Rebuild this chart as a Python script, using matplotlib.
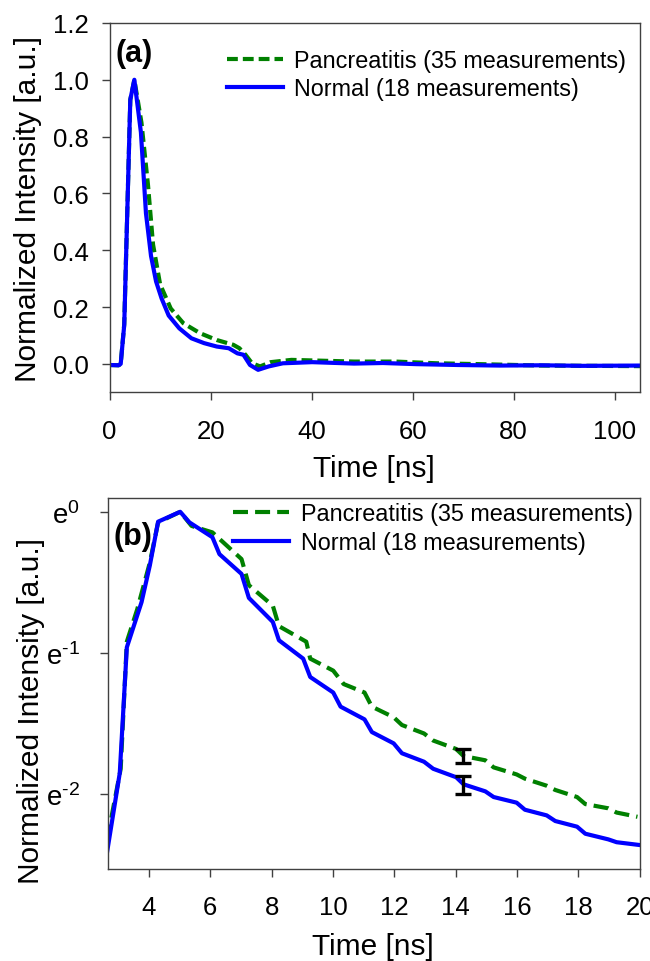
import numpy as np
import matplotlib
matplotlib.use("Agg")
import matplotlib.pyplot as plt

plt.rcParams['font.family'] = ['Liberation Sans', 'DejaVu Sans']
plt.rcParams['mathtext.fontset'] = 'custom'
plt.rcParams['mathtext.rm'] = 'Liberation Sans'
plt.rcParams['mathtext.it'] = 'Liberation Sans:italic'

# ---------------- Panel (a) data: full decay (linear scale) ----------------
t_a_normal = [0, 1.8, 2.2, 2.9, 4.1, 4.9, 6.2, 7.2, 8.2, 9.2, 10.3, 11.7, 13.8, 16.2,
              18.7, 21.2, 23.6, 25.3, 26.5, 27.8, 29.4, 31.5, 34.3, 40.1, 48.4, 54.1,
              60.7, 68.9, 77.2, 85.4, 93.7, 105]
i_a_normal = [-0.004, -0.005, 0.0, 0.137, 0.93, 1.0, 0.815, 0.53, 0.38, 0.29, 0.23, 0.17,
              0.125, 0.09, 0.073, 0.061, 0.055, 0.037, 0.032, -0.004, -0.021, -0.009,
              0.002, 0.006, 0.001, 0.003, -0.001, -0.004, -0.006, -0.005, -0.007, -0.006]

t_a_panc = [0, 1.8, 2.2, 2.9, 4.1, 4.9, 6.3, 7.6, 8.6, 10.0, 12.1, 14.6, 17.9, 21.2,
            24.5, 25.7, 26.9, 28.2, 29.8, 31.9, 36.0, 40.1, 48.4, 56.6, 64.8, 73.1,
            85.4, 105]
i_a_panc = [-0.004, -0.005, 0.0, 0.14, 0.93, 1.0, 0.85, 0.63, 0.42, 0.28, 0.195, 0.143,
            0.108, 0.084, 0.067, 0.055, 0.032, 0.002, -0.009, 0.006, 0.014, 0.012,
            0.008, 0.008, 0.002, -0.001, -0.006, -0.008]

# ---------------- Panel (b) data: early decay (natural-log intensity) ----------------
t_b_normal = [2.64, 3.05, 3.28, 3.76, 4.03, 4.30, 5.02, 5.32, 6.07, 6.30, 7.02, 7.26,
              8.04, 8.24, 9.03, 9.26, 10.01, 10.25, 11.03, 11.27, 11.98, 12.25, 12.97,
              13.27, 14.02, 14.26, 14.97, 15.24, 15.99, 16.26, 16.97, 17.25, 17.96,
              18.23, 18.98, 19.25, 20.0]
ln_b_normal = [-2.405, -1.85, -0.96, -0.64, -0.38, -0.07, 0.0, -0.075, -0.18, -0.30,
               -0.44, -0.61, -0.78, -0.91, -1.04, -1.17, -1.28, -1.38, -1.47, -1.56,
               -1.64, -1.71, -1.77, -1.82, -1.88, -1.93, -1.98, -2.02, -2.06, -2.11,
               -2.15, -2.19, -2.23, -2.28, -2.32, -2.34, -2.36]

t_b_panc = [2.64, 3.08, 3.28, 3.62, 4.03, 4.30, 5.02, 5.39, 6.07, 7.02, 7.26, 8.04,
            8.24, 9.13, 9.26, 10.01, 10.35, 11.03, 11.27, 11.98, 12.25, 12.97, 13.27,
            14.02, 14.26, 14.97, 15.24, 15.99, 16.26, 16.97, 17.25, 17.96, 18.23,
            18.98, 19.25, 19.93]
ln_b_panc = [-2.32, -1.82, -0.92, -0.69, -0.36, -0.075, 0.0, -0.10, -0.146, -0.335,
             -0.52, -0.665, -0.81, -0.92, -1.04, -1.125, -1.22, -1.28, -1.38, -1.455,
             -1.51, -1.57, -1.62, -1.68, -1.73, -1.76, -1.81, -1.86, -1.89, -1.94,
             -1.97, -2.02, -2.07, -2.10, -2.13, -2.16]

# error bars at t = 14.25 ns (natural-log units)
err_t = [14.25, 14.25]
err_center_ln = [-1.73, -1.935]
err_half_ln = [0.052, 0.065]

labels = ['Pancreatitis (35 measurements)', 'Normal (18 measurements)']
ytick_b_exp = ['0', '\u20101', '\u20102']
c_panc = '#008000'
c_norm = '#0000FF'
spine_c = '#404040'

fig = plt.figure(figsize=(6.5, 9.62), dpi=100)
ax1 = fig.add_axes([0.1686, 0.5912, 0.816, 0.3839])
ax2 = fig.add_axes([0.1654, 0.0956, 0.8186, 0.3853])

def style(ax):
    for s in ax.spines.values():
        s.set_color(spine_c)
        s.set_linewidth(1.0)
    ax.tick_params(direction='out', length=6, width=1.0, color=spine_c,
                   labelsize=18.5, top=False, right=False)
    ax.tick_params(axis='x', pad=13)
    ax.tick_params(axis='y', pad=9)

# ---- panel (a)
ax1.plot(t_a_panc, i_a_panc, color=c_panc, lw=3.0, dashes=(2.6, 1.2), label=labels[0])
ax1.plot(t_a_normal, i_a_normal, color=c_norm, lw=3.0, label=labels[1])
ax1.set_xlim(0, 105)
ax1.set_ylim(-0.1, 1.2)
ax1.set_xticks([0, 20, 40, 60, 80, 100])
ax1.set_yticks([0.0, 0.2, 0.4, 0.6, 0.8, 1.0, 1.2])
ax1.set_yticklabels(['0.0', '0.2', '0.4', '0.6', '0.8', '1.0', '1.2'])
style(ax1)
ax1.set_xlabel('Time [ns]', fontsize=21.5)
ax1.set_ylabel('Normalized Intensity [a.u.]', fontsize=21.5)
ax1.xaxis.set_label_coords(0.4985, -0.168)
ax1.yaxis.set_label_coords(-0.128, 0.5)
ax1.text(0.012, 0.96, '(a)', transform=ax1.transAxes, fontsize=22, fontweight='bold',
         va='top', ha='left')
ax1.legend(loc='upper left', bbox_to_anchor=(0.221, 0.93), frameon=False, fontsize=16.8,
           handlelength=2.4, handletextpad=0.5, labelspacing=0.22, borderpad=0,
           borderaxespad=0)

# ---- panel (b)
ax2.set_yscale('log', base=np.e)
ax2.plot(t_b_panc, np.exp(ln_b_panc), color=c_panc, lw=3.0, dashes=(3.6, 1.7), label=labels[0])
ax2.plot(t_b_normal, np.exp(ln_b_normal), color=c_norm, lw=3.0, label=labels[1])
for tt, cc, hh in zip(err_t, err_center_ln, err_half_ln):
    lo = np.exp(cc) - np.exp(cc - hh)
    hi = np.exp(cc + hh) - np.exp(cc)
    ax2.errorbar([tt], [np.exp(cc)], yerr=[[lo], [hi]], fmt='none', ecolor='black',
                 elinewidth=2.4, capsize=5.5, capthick=2.4, zorder=5)
ax2.set_xlim(2.65, 20)
ax2.set_ylim(np.exp(-2.53), np.exp(0.095))
ax2.set_xticks([4, 6, 8, 10, 12, 14, 16, 18, 20])
ax2.set_yticks([np.exp(0), np.exp(-1), np.exp(-2)])
ax2.set_yticklabels([r'$\mathregular{e^{%s}}$' % s for s in ytick_b_exp])
ax2.yaxis.set_minor_locator(matplotlib.ticker.NullLocator())
style(ax2)
ax2.tick_params(axis='y', labelsize=20, pad=14)
ax2.set_xlabel('Time [ns]', fontsize=21.5)
ax2.set_ylabel('Normalized Intensity [a.u.]', fontsize=21.5)
ax2.xaxis.set_label_coords(0.4985, -0.17)
ax2.yaxis.set_label_coords(-0.118, 0.43)
ax2.text(0.012, 0.94, '(b)', transform=ax2.transAxes, fontsize=22, fontweight='bold',
         va='top', ha='left')
ax2.legend(loc='upper left', bbox_to_anchor=(0.236, 0.99), frameon=False, fontsize=16.8,
           handlelength=2.4, handletextpad=0.5, labelspacing=0.25, borderpad=0,
           borderaxespad=0)

fig.savefig('out.png', dpi=100)
